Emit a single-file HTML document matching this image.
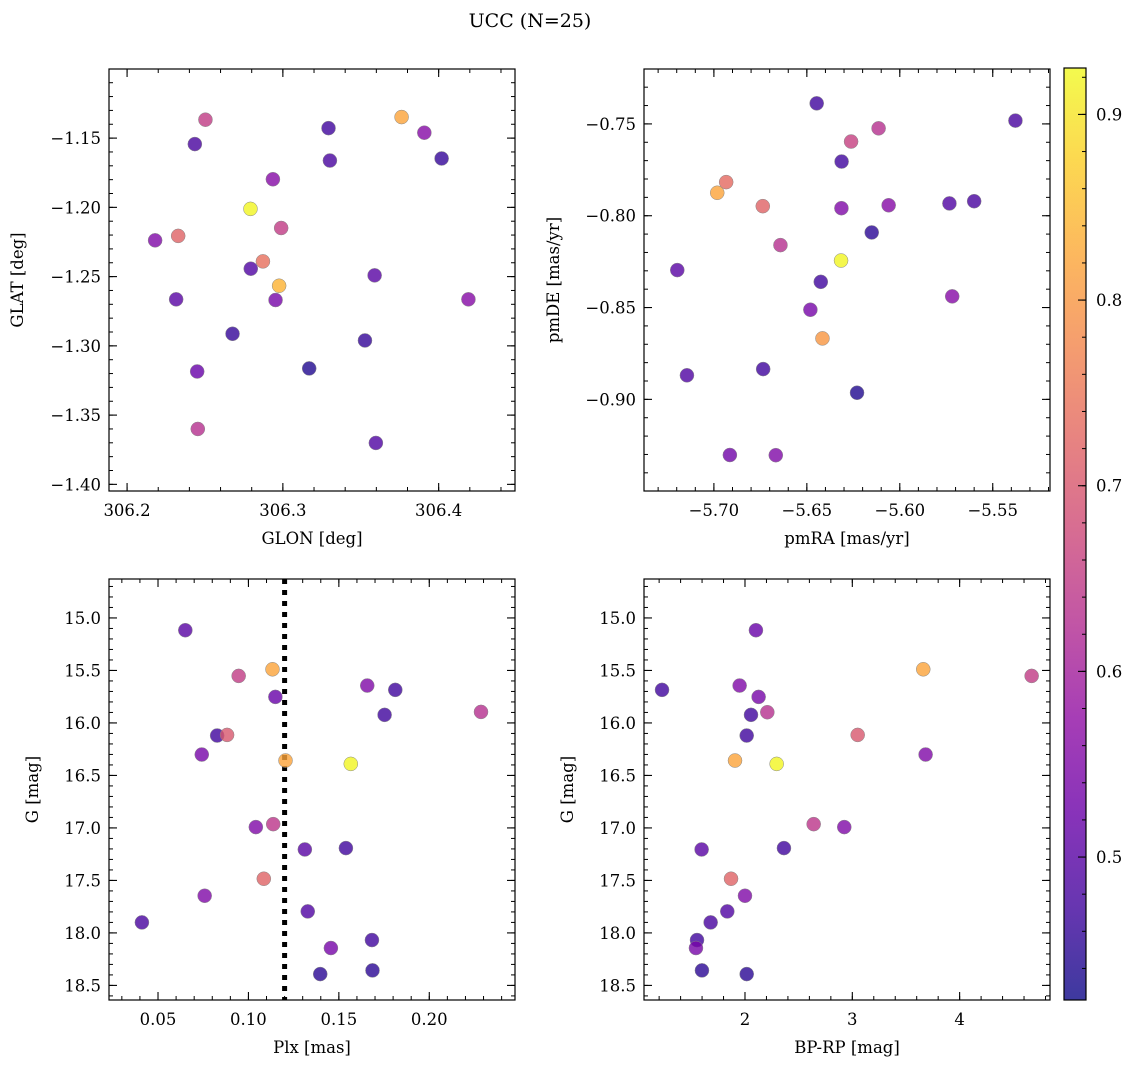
<!DOCTYPE html>
<html><head><meta charset="utf-8"><style>
html,body{margin:0;padding:0;background:#fff;}
svg{display:block;font-family:"DejaVu Serif","Liberation Serif",serif;}
</style></head><body>
<svg id="fig" width="1136" height="1068" viewBox="0 0 1136 1068">
<text x="530" y="27" font-size="19" text-anchor="middle">UCC (N=25)</text>
</svg>
<script>
// ---- data ----
const glon=[306.2503,306.3762,306.3293,306.3908,306.2435,306.3302,306.4019,306.2936,306.2792,306.2989,306.2180,306.2328,306.2872,306.2794,306.2976,306.3589,306.2315,306.2953,306.4191,306.2677,306.3527,306.3169,306.2450,306.2454,306.3597];
const glat=[-1.1367,-1.1348,-1.1428,-1.1461,-1.1543,-1.1662,-1.1647,-1.1797,-1.2011,-1.2149,-1.2238,-1.2206,-1.2390,-1.2443,-1.2566,-1.2491,-1.2664,-1.2669,-1.2664,-1.2913,-1.2961,-1.3163,-1.3185,-1.3600,-1.3701];
const probA=[0.65,0.82,0.47,0.56,0.48,0.48,0.46,0.56,0.92,0.65,0.55,0.72,0.74,0.49,0.84,0.50,0.50,0.54,0.56,0.46,0.46,0.44,0.52,0.63,0.49];
const pmra=[-5.6447,-5.5378,-5.6114,-5.6262,-5.6313,-5.6934,-5.6982,-5.6737,-5.6314,-5.6060,-5.5733,-5.5600,-5.6151,-5.6642,-5.6316,-5.7197,-5.6425,-5.5718,-5.6481,-5.6416,-5.7145,-5.6735,-5.6230,-5.6914,-5.6667];
const pmde=[-0.7388,-0.7482,-0.7524,-0.7596,-0.7705,-0.7817,-0.7875,-0.7948,-0.7959,-0.7943,-0.7933,-0.7921,-0.8091,-0.8160,-0.8244,-0.8296,-0.8360,-0.8439,-0.8512,-0.8668,-0.8869,-0.8835,-0.8964,-0.9303,-0.9304];
const probB=[0.47,0.48,0.63,0.66,0.47,0.73,0.82,0.72,0.55,0.56,0.49,0.48,0.45,0.63,0.92,0.50,0.47,0.56,0.54,0.80,0.49,0.47,0.44,0.53,0.55];
const plx=[0.0651,0.0946,0.1133,0.1657,0.1812,0.1149,0.1753,0.2286,0.0827,0.0882,0.0742,0.1205,0.1566,0.1041,0.1137,0.1312,0.1539,0.1085,0.0758,0.1328,0.0411,0.1683,0.1456,0.1397,0.1686];
const gmagC=[15.117,15.552,15.489,15.644,15.685,15.752,15.923,15.895,16.120,16.114,16.301,16.358,16.390,16.992,16.964,17.205,17.192,17.484,17.646,17.795,17.900,18.068,18.144,18.392,18.357];
const probC=[0.50,0.65,0.82,0.55,0.47,0.52,0.47,0.63,0.47,0.70,0.54,0.82,0.92,0.55,0.64,0.50,0.47,0.72,0.55,0.49,0.48,0.47,0.54,0.45,0.45];
const bprp=[2.102,1.227,1.950,2.127,2.208,2.056,3.661,4.671,2.016,3.050,1.907,2.295,3.683,2.640,2.925,1.596,2.363,1.870,2.000,1.835,1.680,1.553,1.543,2.016,1.599];
const gmagD=[15.117,15.685,15.644,15.752,15.898,15.923,15.489,15.552,16.120,16.114,16.358,16.390,16.301,16.964,16.992,17.205,17.192,17.484,17.646,17.795,17.900,18.068,18.144,18.392,18.357];
const probD=[0.52,0.47,0.55,0.54,0.63,0.47,0.82,0.65,0.47,0.70,0.82,0.92,0.55,0.64,0.55,0.50,0.47,0.72,0.55,0.49,0.48,0.47,0.54,0.45,0.45];
const plxCut=0.12;
const cbTicks=[0.5,0.6,0.7,0.8,0.9];
const VMIN=0.423,VMAX=0.925;

const NS="http://www.w3.org/2000/svg";
const svg=document.getElementById('fig');
function mk(tag,attrs,parent){const e=document.createElementNS(NS,tag);for(const k in attrs)e.setAttribute(k,attrs[k]);(parent||svg).appendChild(e);return e;}
const stops=[[13,8,135],[65,4,157],[106,0,168],[143,13,164],[177,42,144],[204,71,120],[225,100,98],[242,132,75],[252,166,54],[252,206,37],[240,249,33]];
function plasma(t){t=Math.max(0,Math.min(1,t));const f=t*10,i=Math.min(9,Math.floor(f)),u=f-i;const a=stops[i],b=stops[i+1];return `rgb(${a.map((v,k)=>Math.round(v+(b[k]-v)*u)).join(',')})`;}
function cnorm(v){return (v-VMIN)/(VMAX-VMIN);}
function fmt(v,d){let s=v.toFixed(d);return s.replace('-','\u2212');}

function panel(o){
  const {x0,y0,x1,y1,xmin,xmax,ymin,ymax,yinv}=o;
  const sx=v=>x0+(v-xmin)/(xmax-xmin)*(x1-x0);
  const sy=v=>yinv? y0+(v-ymin)/(ymax-ymin)*(y1-y0) : y1-(v-ymin)/(ymax-ymin)*(y1-y0);
  const g=mk('g',{});
  
  
  const eps=1e-9;
  function ticks(min,max,step){const r=[];let s=Math.ceil(min/step-eps)*step;for(let v=s;v<=max+eps;v+=step)r.push(+v.toFixed(6));return r;}
  ticks(xmin,xmax,o.xminor).forEach(v=>{const X=sx(v);mk('line',{x1:X,x2:X,y1:y1,y2:y1-4,stroke:'#000','stroke-width':1},g);mk('line',{x1:X,x2:X,y1:y0,y2:y0+4,stroke:'#000','stroke-width':1},g);});
  ticks(ymin,ymax,o.yminor).forEach(v=>{const Y=sy(v);mk('line',{x1:x0,x2:x0+4,y1:Y,y2:Y,stroke:'#000','stroke-width':1},g);mk('line',{x1:x1,x2:x1-4,y1:Y,y2:Y,stroke:'#000','stroke-width':1},g);});
  ticks(xmin,xmax,o.xmajor).forEach(v=>{const X=sx(v);mk('line',{x1:X,x2:X,y1:y1,y2:y1-8,stroke:'#000','stroke-width':1.1},g);mk('line',{x1:X,x2:X,y1:y0,y2:y0+8,stroke:'#000','stroke-width':1.1},g);
    const t=mk('text',{x:X,y:y1+25,'font-size':16.5,'text-anchor':'middle'},g);t.textContent=fmt(v,o.xd);});
  ticks(ymin,ymax,o.ymajor).forEach(v=>{const Y=sy(v);mk('line',{x1:x0,x2:x0+8,y1:Y,y2:Y,stroke:'#000','stroke-width':1.1},g);mk('line',{x1:x1,x2:x1-8,y1:Y,y2:Y,stroke:'#000','stroke-width':1.1},g);
    const t=mk('text',{x:x0-8,y:Y+6,'font-size':16.5,'text-anchor':'end'},g);t.textContent=fmt(v,o.yd);});
  if(o.vline!==undefined){const l=mk('line',{x1:sx(o.vline),x2:sx(o.vline),y1:y0,y2:y1,stroke:'#000','stroke-width':5,'stroke-dasharray':'5 6'},g);}
  o.xs.forEach((v,i)=>{const c=mk('circle',{cx:sx(v),cy:sy(o.ys[i]),r:7,fill:plasma(cnorm(o.cs[i])),'fill-opacity':0.8,stroke:'#888','stroke-width':0.5},g);
    });
  mk('rect',{x:x0,y:y0,width:x1-x0,height:y1-y0,fill:'none',stroke:'#000','stroke-width':1.2},g);
  const xl=mk('text',{x:(x0+x1)/2,y:y1+53,'font-size':16.5,'text-anchor':'middle'},g);xl.textContent=o.xlabel;
  
  const cx=o.ylx,cy=(y0+y1)/2;
  const yl=mk('text',{x:cx,y:cy,'font-size':16.5,'text-anchor':'middle',transform:`rotate(-90 ${cx} ${cy})`},g);yl.textContent=o.ylabel;
  
}
panel({name:'glon-glat-panel',x0:109,y0:69,x1:515,y1:491,xmin:306.1884,xmax:306.449,ymin:-1.4048,ymax:-1.1001,xmajor:0.1,xminor:0.02,ymajor:0.05,yminor:0.01,xd:1,yd:2,xs:glon,ys:glat,cs:probA,xlabel:'GLON [deg]',ylabel:'GLAT [deg]',ylx:23});
panel({name:'pm-panel',x0:644,y0:69,x1:1050,y1:491,xmin:-5.7376,xmax:-5.5192,ymin:-0.9499,ymax:-0.7201,xmajor:0.05,xminor:0.01,ymajor:0.05,yminor:0.01,xd:2,yd:2,xs:pmra,ys:pmde,cs:probB,xlabel:'pmRA [mas/yr]',ylabel:'pmDE [mas/yr]',ylx:559});
panel({name:'plx-g-panel',x0:109,y0:579,x1:515,y1:1000,xmin:0.0229,xmax:0.2474,ymin:14.629,ymax:18.639,yinv:true,xmajor:0.05,xminor:0.01,ymajor:0.5,yminor:0.1,xd:2,yd:1,xs:plx,ys:gmagC,cs:probC,xlabel:'Plx [mas]',ylabel:'G [mag]',ylx:38,vline:plxCut});
panel({name:'cmd-panel',x0:644,y0:579,x1:1050,y1:1000,xmin:1.059,xmax:4.842,ymin:14.629,ymax:18.639,yinv:true,xmajor:1,xminor:0.2,ymajor:0.5,yminor:0.1,xd:0,yd:1,xs:bprp,ys:gmagD,cs:probD,xlabel:'BP-RP [mag]',ylabel:'G [mag]',ylx:573});

// colorbar
(function(){
  const x0=1064,x1=1086,y0=68,y1=1000;
  const g=mk('g',{});
  
  
  const defs=mk('defs',{},g);
  const lg=mk('linearGradient',{id:'cbg',x1:0,y1:1,x2:0,y2:0},defs);
  for(let i=0;i<=10;i++)mk('stop',{offset:i/10,'stop-color':plasma(i/10),'stop-opacity':0.8},lg);
  mk('rect',{x:x0,y:y0,width:x1-x0,height:y1-y0,fill:'url(#cbg)',stroke:'#000','stroke-width':1.2},g);
  const sy=v=>y1-(v-VMIN)/(VMAX-VMIN)*(y1-y0);
  for(let v=0.44;v<VMAX;v+=0.02){const Y=sy(v);mk('line',{x1:x1,x2:x1-4,y1:Y,y2:Y,stroke:'#000','stroke-width':1},g);}
  cbTicks.forEach(v=>{const Y=sy(v);mk('line',{x1:x1,x2:x1-8,y1:Y,y2:Y,stroke:'#000','stroke-width':1.1},g);
    const t=mk('text',{x:x1+10,y:Y+6,'font-size':16.5},g);t.textContent=v.toFixed(1);});
})();
</script>
</body></html>
